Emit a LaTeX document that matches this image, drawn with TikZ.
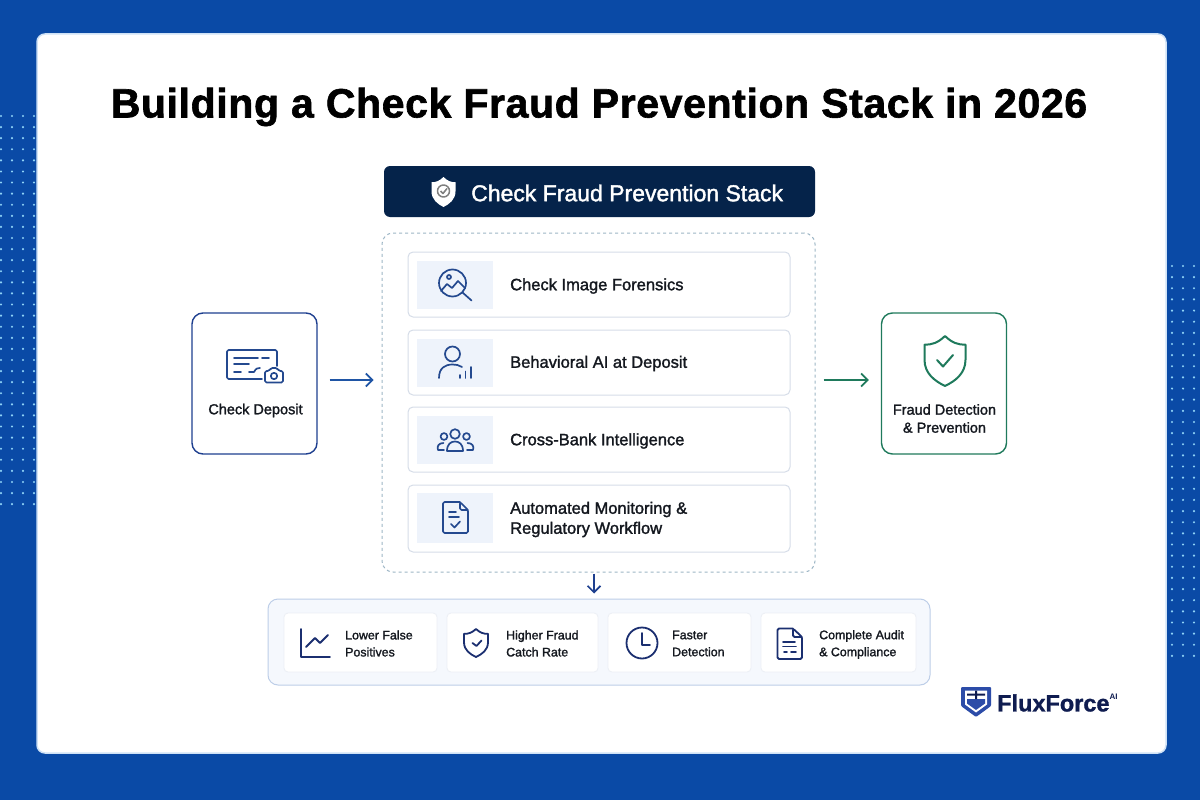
\documentclass[tikz,border=0pt]{standalone}
\usepackage{fontspec}
\setmainfont{Liberation Sans}
\newfontfamily\semifont[FakeBold=1.6]{Liberation Sans}
\newfontfamily\titlefont[LetterSpace=1.5,FakeBold=1.5]{Liberation Sans Bold}
\newfontfamily\logofont[FakeBold=1.2]{Liberation Sans Bold}
\usetikzlibrary{arrows.meta}

\definecolor{pageblue}{HTML}{0A4AA6}
\definecolor{cardedge}{HTML}{CFE2F6}
\definecolor{dotblue}{HTML}{8FD3F7}
\definecolor{headnavy}{HTML}{05234A}
\definecolor{frameline}{HTML}{9DB6C6}
\definecolor{rowline}{HTML}{D6DDE8}
\definecolor{iconbg}{HTML}{EEF3FB}
\definecolor{iconblue}{HTML}{24498F}
\definecolor{deepblue}{HTML}{1E3F8F}
\definecolor{flowblue}{HTML}{1F55A5}
\definecolor{proofgreen}{HTML}{1F7A5C}
\definecolor{panelfill}{HTML}{F5F8FD}
\definecolor{panelline}{HTML}{BDCEE8}
\definecolor{tileline}{HTML}{ECEFF5}
\definecolor{benefitnavy}{HTML}{1B2F70}
\definecolor{inktext}{HTML}{14181F}
\definecolor{logonavy}{HTML}{0F1C50}
\definecolor{logoblue}{HTML}{2C4CA8}

\tikzset{
	rowbox/.style={draw=rowline,line width=1pt,fill=white,rounded corners=5pt,minimum width=382pt},
	iconbox/.style={fill=iconbg,minimum width=76pt,minimum height=48pt},
	rowtext/.style={anchor=west,align=left,text=inktext,inner sep=0pt,font=\semifont\fontsize{16.5}{20}\selectfont},
	sidebox/.style={fill=white,rounded corners=11pt,line width=1.4pt,minimum width=125pt,minimum height=141pt},
	sidetext/.style={align=center,text=inktext,inner sep=0pt,font=\semifont\fontsize{14.5}{18}\selectfont},
	tile/.style={draw=tileline,line width=.8pt,fill=white,rounded corners=4pt,minimum height=59pt},
	tiletext/.style={anchor=west,align=left,text=inktext,inner sep=0pt,font=\semifont\fontsize{12.4}{17}\selectfont},
	flowarrow/.style={line width=1.7pt,-{Straight Barb[length=6.5pt,width=13pt]}},
	rowicon/.style={draw=iconblue,line width=1.7pt,line cap=round,line join=round},
	tileicon/.style={draw=benefitnavy,line width=1.8pt,line cap=round,line join=round},
}
\newcommand{\shieldshape}{(0,-1) .. controls (.35,-.72) and (.65,-.65) .. (1,-.65) -- (1,-.05) .. controls (1,.5) and (.5,.8) .. (0,1) .. controls (-.5,.8) and (-1,.5) .. (-1,-.05) -- (-1,-.65) .. controls (-.65,-.65) and (-.35,-.72) .. (0,-1) -- cycle}

\begin{document}
\begin{tikzpicture}[x=1pt,y=-1pt]
	\useasboundingbox (0,0) rectangle (1200,800);
	\fill[pageblue] (0,0) rectangle (1200,800);
	% dot fields on both sides
	\foreach \row in {0,...,35}{
		\foreach \col in {1,12,23,34}
			\fill[dotblue] (\col,116+11.09*\row) circle (1.2);
		\foreach \col in {1172,1183,1194}
			\fill[dotblue] (\col,266+11.14*\row) circle (1.2);
	}
	\draw[draw=cardedge,line width=1.5pt,fill=white,rounded corners=8pt] (37,34) rectangle (1166,753);

	\node[inner sep=0pt,text=black,font=\titlefont\fontsize{41}{44}\selectfont] (title) at (599,107) {Building a Check Fraud Prevention Stack in 2026};

	% stack header
	\node[fill=headnavy,rounded corners=6pt,minimum width=431pt,minimum height=51pt] (header) at (599.5,191.5) {};
	\node[anchor=west,inner sep=0pt,text=white,font=\semifont\fontsize{23}{26}\selectfont] (headertext) at (471,193) {Check Fraud Prevention Stack};
	\fill[white,shift={(443.5,192)},xscale=12,yscale=15] \shieldshape;
	\draw[gray,line width=1.5pt,line join=round] (443.5,191) circle (6) (440.5,191) -- (443,193.5) -- (447,188.5);

	% stack frame and rows
	\node[draw=frameline,dashed,line width=1pt,rounded corners=11pt,minimum width=433pt,minimum height=339pt] (frame) at (598.5,402.5) {};

	\node[rowbox,minimum height=65pt] (forensics) at (599,284.5) {};
	\node[iconbox] (forensicsicon) at (455,285) {};
	\node[rowtext] (forensicstext) at (510,286) {Check Image Forensics};
	\draw[rowicon] (452.5,283) circle (13.5);
	\draw[rowicon] (449,277) circle (2);
	\draw[rowicon] (441,291) -- (447,284) -- (452,288) -- (458,281) -- (465,288);
	\draw[rowicon] (462.5,292.5) -- (471.5,300.5);

	\node[rowbox,minimum height=65pt] (behavior) at (599,362.5) {};
	\node[iconbox] (behavioricon) at (455,362.5) {};
	\node[rowtext] (behaviortext) at (510,363.5) {Behavioral AI at Deposit};
	\draw[rowicon] (452.5,354) circle (7.5);
	\draw[rowicon] (439,378) .. controls (439,368) and (445,364.5) .. (452.5,364.5) .. controls (456,364.5) and (459,365) .. (462,367);
	\draw[rowicon] (460,378) -- (460,375) (465.5,378) -- (465.5,371.5) (471,378) -- (471,367);

	\node[rowbox,minimum height=65pt] (crossbank) at (599,439.5) {};
	\node[iconbox] (crossbankicon) at (455,440) {};
	\node[rowtext] (crossbanktext) at (510,441) {Cross-Bank Intelligence};
	\draw[rowicon] (455,434) circle (4.8) (444,436.5) circle (3.4) (466.5,436.5) circle (3.4);
	\draw[rowicon] (447,451) .. controls (447,444) and (451,441.5) .. (455,441.5) .. controls (459,441.5) and (463,444) .. (463,451) -- cycle;
	\draw[rowicon] (444,450) -- (438,450) .. controls (436.5,446) and (439,443) .. (443.5,443);
	\draw[rowicon] (467,450) -- (473,450) .. controls (474.5,446) and (472,443) .. (467.5,443);

	\node[rowbox,minimum height=67pt] (workflow) at (599,518.5) {};
	\node[iconbox,minimum height=50pt] (workflowicon) at (455,518) {};
	\node[rowtext] (workflowtext) at (510,519.5) {Automated Monitoring \&\\Regulatory Workflow};
	\draw[rowicon,rounded corners=1.5pt] (460,502) -- (443,502) -- (443,533) -- (468,533) -- (468,510) -- (460,502) -- (460,510) -- (468,510);
	\draw[rowicon] (449,512) -- (456,512) (449,517) -- (459,517);
	\draw[rowicon] (451,524) -- (454.5,527.5) -- (460,521.5);

	% check deposit side
	\node[sidebox,draw=deepblue] (deposit) at (254.5,383.5) {};
	\node[sidetext] (deposittext) at (255.5,410.5) {Check Deposit};
	\draw[rowicon,rounded corners=1.5pt] (262,379) -- (227,379) -- (227,350) -- (277,350) -- (277,366);
	\draw[rowicon] (234,358) -- (258,358) (262,358) -- (269,358) (234,364) -- (249,364) (234,372) -- (241,372) (249,372) -- (254,372) (254,372) .. controls (256,368) and (258,368) .. (260,368);
	\draw[rowicon,rounded corners=1.5pt] (265,371) -- (269,371) -- (271,368) -- (277,368) -- (279,371) -- (283,371) -- (283,382.5) -- (265,382.5) -- cycle;
	\draw[rowicon] (274,376) circle (3.2);

	% fraud detection side
	\node[sidebox,draw=proofgreen] (outcome) at (944,383.5) {};
	\node[sidetext] (outcometext) at (944.5,418.5) {Fraud Detection\\\& Prevention};
	\draw[draw=proofgreen,line width=2pt,line join=round,shift={(945,361)},xscale=20.5,yscale=25] \shieldshape;
	\draw[draw=proofgreen,line width=2pt,line cap=round,line join=round] (937,360) -- (943,366.5) -- (953,355);

	% flows
	\coordinate (flowlevel) at (0,380);
	\coordinate (dropline) at (594,0);
	\draw[flowarrow,draw=flowblue,shorten <=12pt,shorten >=8pt] (deposit.east |- flowlevel) -- (frame.west |- flowlevel);
	\draw[flowarrow,draw=proofgreen,shorten <=8pt,shorten >=12pt] (frame.east |- flowlevel) -- (outcome.west |- flowlevel);

	% benefits panel
	\node[draw=panelline,line width=1pt,fill=panelfill,rounded corners=10pt,minimum width=662pt,minimum height=86pt] (benefits) at (599,642) {};
	\draw[flowarrow,draw=deepblue,shorten <=1pt,shorten >=5pt] (frame.south -| dropline) -- (benefits.north -| dropline);

	\node[tile,minimum width=153pt] (falsepos) at (360.5,642.5) {};
	\node[tiletext] (falsepostext) at (345,643.5) {Lower False\\Positives};
	\draw[tileicon] (301,629) -- (301,657) -- (330,657);
	\draw[tileicon] (306,647) -- (315,638) -- (320,643) -- (328,635);

	\node[tile,minimum width=151pt] (catchrate) at (522.5,642.5) {};
	\node[tiletext] (catchratetext) at (506,643.5) {Higher Fraud\\Catch Rate};
	\draw[tileicon,shift={(476,643)},xscale=12,yscale=14] \shieldshape;
	\draw[tileicon] (472.5,643) -- (476.5,646) -- (481.5,640.5);

	\node[tile,minimum width=143pt] (faster) at (679.5,642.5) {};
	\node[tiletext] (fastertext) at (672,643.5) {Faster\\Detection};
	\draw[tileicon] (642,643) circle (15.5);
	\draw[tileicon] (642,633) -- (642,645) -- (650,645);

	\node[tile,minimum width=155pt] (audit) at (838.5,642.5) {};
	\node[tiletext] (audittext) at (819,644.5) {Complete Audit\\\& Compliance};
	\draw[tileicon,rounded corners=1.5pt] (793,628.5) -- (777.5,628.5) -- (777.5,659) -- (802,659) -- (802,637) -- (793,628.5) -- (793,637) -- (802,637);
	\draw[tileicon] (783,642) -- (795,642) (783,646.5) -- (796,646.5);
	\draw[tileicon] (784,652) -- (787,652) (791,652) -- (796,652);

	% logo
	\fill[logoblue,rounded corners=1pt] (961,687) -- (991,687) -- (991,706) -- (976,717) -- (961,706) -- cycle;
	\fill[white] (965,690.5) -- (987,690.5) -- (987,704.5) -- (976,712.5) -- (965,704.5) -- cycle;
	\fill[logoblue] (967,699) -- (985,699) -- (985,703.5) -- (976,710) -- (967,703.5) -- cycle;
	\fill[logonavy] (967,693.5) rectangle (985,695.5) (975,690.5) rectangle (977,699);
	\node[anchor=west,inner sep=0pt,text=logonavy,font=\logofont\fontsize{23.5}{26}\selectfont] (logotext) at (997,703) {FluxForce};
	\node[anchor=west,inner sep=0pt,text=logonavy,font=\fontsize{8}{9}\bfseries\selectfont] (logoai) at (1109.5,697) {AI};
\end{tikzpicture}
\end{document}
